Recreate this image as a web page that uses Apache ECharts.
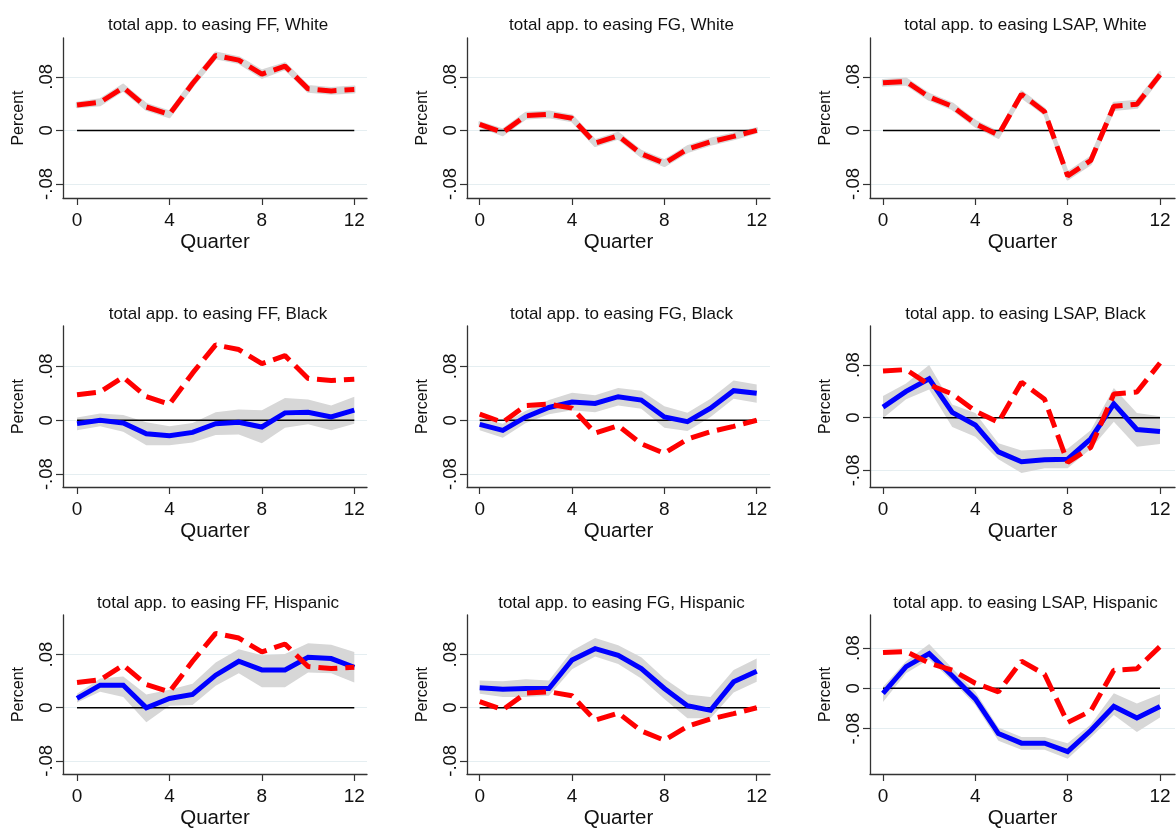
<!DOCTYPE html>
<html><head><meta charset="utf-8">
<script src="https://cdn.jsdelivr.net/npm/echarts@6/dist/echarts.min.js"></script>
<style>html,body{margin:0;padding:0;background:#fff}#c{width:1176px;height:830px}</style>
</head><body><div id="c"></div>
<script>
// ---------------- data ----------------
const quarters = [0,1,2,3,4,5,6,7,8,9,10,11,12];
const xTickValues = [0,4,8,12];
const xTickLabels = ['0','4','8','12'];
const yTickValues = [-0.08,0,0.08];
const yTickLabels = ['-.08','0','.08'];
const zeroLineX = [0,12];

const titles = [
  'total app. to easing FF, White','total app. to easing FG, White','total app. to easing LSAP, White',
  'total app. to easing FF, Black','total app. to easing FG, Black','total app. to easing LSAP, Black',
  'total app. to easing FF, Hispanic','total app. to easing FG, Hispanic','total app. to easing LSAP, Hispanic'
];

// White responses (red dashed) and their bands
const whiteFF   = [0.038,0.042,0.064,0.035,0.024,0.070,0.112,0.105,0.084,0.096,0.062,0.059,0.061];
const whiteFFLo = [0.035,0.038,0.060,0.031,0.020,0.066,0.108,0.101,0.079,0.092,0.058,0.055,0.057];
const whiteFFHi = [0.041,0.046,0.068,0.039,0.028,0.074,0.116,0.109,0.089,0.100,0.066,0.063,0.065];

const whiteFG   = [0.009,-0.003,0.022,0.024,0.018,-0.019,-0.008,-0.035,-0.049,-0.028,-0.017,-0.009,0.000];
const whiteFGLo = [0.006,-0.007,0.018,0.020,0.014,-0.023,-0.012,-0.039,-0.053,-0.032,-0.021,-0.013,-0.003];
const whiteFGHi = [0.012,0.001,0.026,0.028,0.022,-0.015,-0.004,-0.031,-0.045,-0.024,-0.013,-0.005,0.003];

const whiteLSAP   = [0.071,0.073,0.050,0.036,0.010,-0.007,0.054,0.028,-0.068,-0.045,0.036,0.039,0.083];
const whiteLSAPLo = [0.067,0.069,0.046,0.032,0.006,-0.011,0.050,0.024,-0.073,-0.050,0.031,0.034,0.079];
const whiteLSAPHi = [0.075,0.077,0.054,0.040,0.014,-0.003,0.058,0.032,-0.063,-0.040,0.041,0.044,0.087];

// Black responses (blue solid) and bands
const blackFF   = [-0.005,0.000,-0.004,-0.020,-0.023,-0.018,-0.005,-0.003,-0.010,0.011,0.012,0.005,0.015];
const blackFFLo = [-0.015,-0.009,-0.017,-0.037,-0.037,-0.033,-0.022,-0.021,-0.034,-0.011,-0.006,-0.015,-0.005];
const blackFFHi = [0.004,0.010,0.008,-0.003,-0.009,-0.004,0.012,0.016,0.015,0.033,0.031,0.022,0.035];

const blackFG   = [-0.006,-0.015,0.005,0.019,0.027,0.025,0.035,0.030,0.005,-0.002,0.018,0.044,0.040];
const blackFGLo = [-0.015,-0.026,-0.004,0.009,0.015,0.012,0.022,0.017,-0.011,-0.016,0.005,0.032,0.026];
const blackFGHi = [0.004,-0.005,0.014,0.030,0.041,0.037,0.048,0.044,0.021,0.011,0.032,0.059,0.053];

const blackLSAP   = [0.016,0.040,0.059,0.008,-0.011,-0.052,-0.067,-0.064,-0.063,-0.032,0.021,-0.018,-0.021];
const blackLSAPLo = [-0.001,0.028,0.043,-0.014,-0.029,-0.063,-0.084,-0.077,-0.077,-0.047,-0.006,-0.044,-0.040];
const blackLSAPHi = [0.033,0.052,0.080,0.020,0.007,-0.039,-0.050,-0.048,-0.047,-0.019,0.045,0.007,0.002];

// Hispanic responses (blue solid) and bands
const hispFF   = [0.014,0.034,0.034,0.000,0.014,0.020,0.049,0.070,0.057,0.057,0.076,0.074,0.061];
const hispFFLo = [0.008,0.024,0.016,-0.022,0.003,0.004,0.033,0.052,0.031,0.031,0.053,0.052,0.038];
const hispFFHi = [0.021,0.044,0.047,0.020,0.027,0.036,0.068,0.088,0.079,0.081,0.097,0.095,0.084];

const hispFG   = [0.030,0.028,0.029,0.029,0.072,0.089,0.079,0.059,0.029,0.003,-0.004,0.039,0.055];
const hispFGLo = [0.021,0.016,0.016,0.018,0.058,0.077,0.066,0.044,0.013,-0.016,-0.016,0.023,0.039];
const hispFGHi = [0.041,0.040,0.043,0.041,0.086,0.105,0.094,0.076,0.044,0.020,0.016,0.057,0.074];

const hispLSAP   = [-0.010,0.043,0.069,0.025,-0.021,-0.090,-0.109,-0.109,-0.126,-0.084,-0.036,-0.059,-0.036];
const hispLSAPLo = [-0.027,0.030,0.058,0.014,-0.033,-0.104,-0.122,-0.122,-0.140,-0.098,-0.053,-0.087,-0.058];
const hispLSAPHi = [0.003,0.054,0.088,0.040,-0.007,-0.078,-0.097,-0.097,-0.109,-0.072,-0.010,-0.030,-0.012];

// ---------------- layout ----------------
const colLeft  = [63, 467, 870];
const colWidth = [304, 303, 305];
const colXMin  = [-0.607, -0.55, -0.563];
const colXMax  = [12.55, 12.576, 12.65];
const rowTop    = [38, 326, 615];
const rowHeight = [160, 161, 162];
const titleTop  = [12, 301, 590];
const panelYMin = [-0.101,-0.101,-0.101, -0.0991,-0.0991,-0.1053, -0.0999,-0.0999,-0.1703];
const panelYMax = [0.138,0.138,0.138, 0.140,0.140,0.1393, 0.1397,0.1397,0.1457];

const panels = [
  {red: whiteFF,   blue: null,      lo: whiteFFLo,   hi: whiteFFHi},
  {red: whiteFG,   blue: null,      lo: whiteFGLo,   hi: whiteFGHi},
  {red: whiteLSAP, blue: null,      lo: whiteLSAPLo, hi: whiteLSAPHi},
  {red: whiteFF,   blue: blackFF,   lo: blackFFLo,   hi: blackFFHi},
  {red: whiteFG,   blue: blackFG,   lo: blackFGLo,   hi: blackFGHi},
  {red: whiteLSAP, blue: blackLSAP, lo: blackLSAPLo, hi: blackLSAPHi},
  {red: whiteFF,   blue: hispFF,    lo: hispFFLo,    hi: hispFFHi},
  {red: whiteFG,   blue: hispFG,    lo: hispFGLo,    hi: hispFGHi},
  {red: whiteLSAP, blue: hispLSAP,  lo: hispLSAPLo,  hi: hispLSAPHi}
];

// ---------------- build ----------------
const FONT = "'Liberation Sans', Arial, sans-serif";
const AX = '#333333';
const BAND = '#d7d7d7';
const grids = [], xAxes = [], yAxes = [], series = [], titleOpts = [];

panels.forEach((p, i) => {
  const r = Math.floor(i / 3), c = i % 3;
  grids.push({left: colLeft[c], top: rowTop[r], width: colWidth[c], height: rowHeight[r], containLabel: false});
  titleOpts.push({
    text: titles[i], left: colLeft[c] + colWidth[c] / 2 - 2, top: titleTop[r], textAlign: 'center',
    textStyle: {fontFamily: FONT, fontSize: 17, fontWeight: 'normal', color: '#111'}
  });
  xAxes.push({
    type: 'value', gridIndex: i, min: colXMin[c], max: colXMax[c],
    name: 'Quarter', nameLocation: 'middle', nameGap: 34,
    nameTextStyle: {fontFamily: FONT, fontSize: 20.5, color: '#111'},
    axisLine: {show: true, onZero: false, lineStyle: {color: AX, width: 1.3}},
    axisTick: {show: true, inside: false, length: 7, customValues: xTickValues, lineStyle: {color: AX, width: 1.2}},
    axisLabel: {customValues: xTickValues, margin: 13, fontFamily: FONT, fontSize: 19, color: '#111',
      formatter: v => xTickLabels[xTickValues.findIndex(t => Math.abs(t - v) < 1e-9)]},
    splitLine: {show: false}
  });
  yAxes.push({
    type: 'value', gridIndex: i, min: panelYMin[i], max: panelYMax[i],
    name: 'Percent', nameLocation: 'middle', nameGap: 36, nameRotate: 90,
    nameTextStyle: {fontFamily: FONT, fontSize: 16, color: '#111'},
    axisLine: {show: true, onZero: false, lineStyle: {color: AX, width: 1.3}},
    axisTick: {show: true, inside: false, length: 7, customValues: yTickValues, lineStyle: {color: AX, width: 1.2}},
    axisLabel: {customValues: yTickValues, rotate: 90, margin: 7, fontFamily: FONT, fontSize: 18.5, color: '#111',
      formatter: v => yTickLabels[yTickValues.findIndex(t => Math.abs(t - v) < 1e-9)]},
    splitLine: {show: true, lineStyle: {color: '#e5eef1', width: 1.2}}
  });
  const white = p.blue === null;
  // confidence band as a polygon through the axis scales
  series.push({
    type: 'custom', xAxisIndex: i, yAxisIndex: i, silent: true, z: 2,
    data: quarters.map((q, k) => [q, p.lo[k], p.hi[k]]),
    encode: {x: 0, y: [1, 2]},
    renderItem: (params, api) => {
      if (params.dataIndex !== 0) return null;
      const upper = quarters.map((q, k) => api.coord([q, p.hi[k]]));
      const lower = quarters.map((q, k) => api.coord([q, p.lo[k]])).reverse();
      return {
        type: 'polygon',
        shape: {points: upper.concat(lower)},
        style: {fill: BAND, stroke: white ? BAND : null, lineWidth: white ? 2.5 : 0, lineJoin: 'round'}
      };
    }
  });
  // zero line
  series.push({
    type: 'line', xAxisIndex: i, yAxisIndex: i, data: zeroLineX.map(x => [x, 0]),
    symbol: 'none', silent: true, z: 3, lineStyle: {color: '#000', width: 1.5}
  });
  if (!white) {
    series.push({
      type: 'line', xAxisIndex: i, yAxisIndex: i, data: quarters.map((q, k) => [q, p.blue[k]]),
      symbol: 'none', silent: true, z: 4, lineStyle: {color: '#0000ff', width: 5, join: 'miter'}
    });
  }
  series.push({
    type: 'line', xAxisIndex: i, yAxisIndex: i, data: quarters.map((q, k) => [q, p.red[k]]),
    symbol: 'none', silent: true, z: 5,
    lineStyle: {color: '#ff0000', width: 5, type: [19, 8], cap: 'butt'}
  });
});

const chart = echarts.init(document.getElementById('c'), null, {renderer: 'canvas'});
chart.setOption({
  backgroundColor: '#ffffff', animation: false,
  title: titleOpts, grid: grids, xAxis: xAxes, yAxis: yAxes, series: series
});
</script></body></html>
